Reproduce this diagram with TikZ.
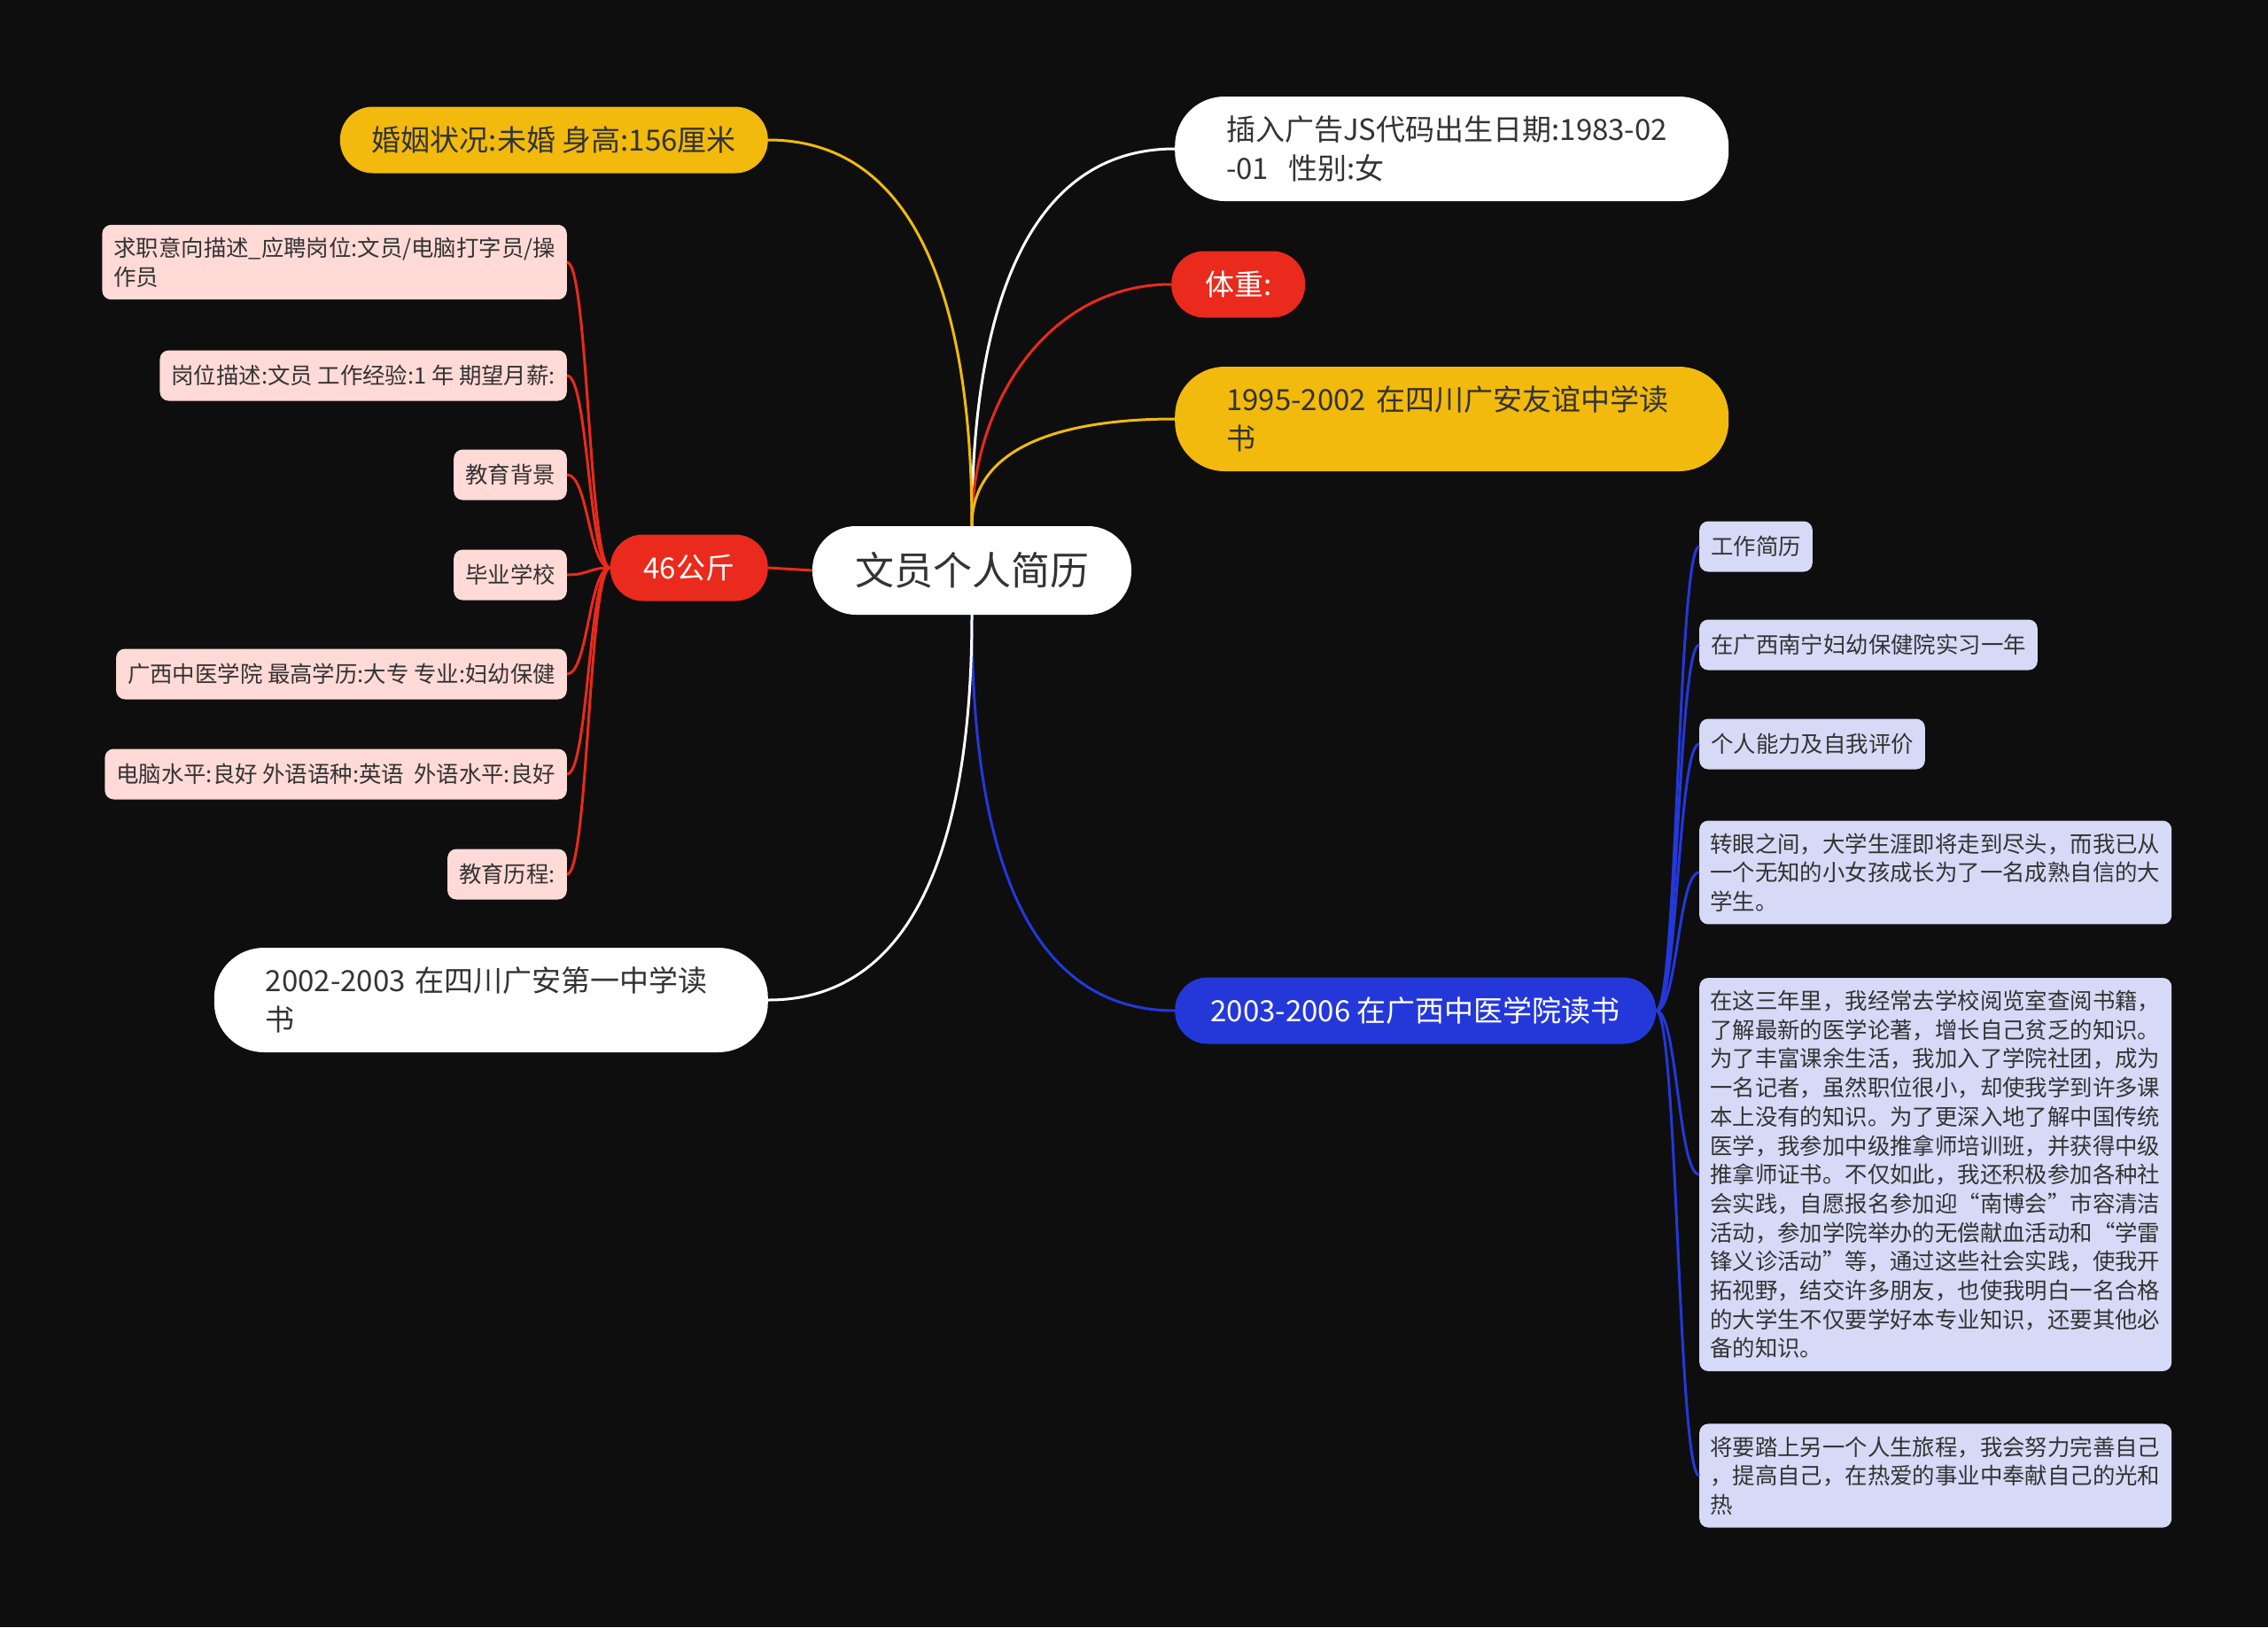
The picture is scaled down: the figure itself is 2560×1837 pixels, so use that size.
\documentclass[tikz,border=0pt]{standalone}
\usepackage{fontspec}
\setmainfont{Noto Sans CJK SC}
\begin{document}
\begin{tikzpicture}[x=1pt, y=-1pt,
    mainnode/.style={rounded corners=37pt, minimum height=75pt, inner xsep=20pt, font=\fontsize{33}{44}\selectfont},
    widenode/.style={rounded corners=56pt, minimum height=118pt, inner xsep=58pt, text width=509pt, align=left, font=\fontsize{33}{44}\selectfont},
    leafnode/.style={rounded corners=10pt, minimum height=57pt, inner xsep=13pt, inner ysep=14pt, align=left, text=textdark, font=\fontsize{25.4}{32.7}\selectfont},
    pinkleaf/.style={leafnode, fill=leafpink, anchor=east},
    blueleaf/.style={leafnode, fill=leafblue, anchor=west},
    branch/.style={line width=3pt},
]
    % Colours of the map
    \definecolor{bgdark}{RGB}{14, 14, 15}
    \definecolor{textdark}{RGB}{51, 51, 51}
    \definecolor{mainyellow}{RGB}{241, 186, 12}
    \definecolor{mainred}{RGB}{234, 42, 28}
    \definecolor{mainblue}{RGB}{36, 56, 218}
    \definecolor{leafpink}{RGB}{255, 218, 214}
    \definecolor{leafblue}{RGB}{214, 218, 246}

    % Dark page
    \fill[bgdark] (0,0) rectangle (2560,1837);
    \useasboundingbox (0,0) rectangle (2560,1837);

    % Central topic
    \node[fill=white, rounded corners=49pt, minimum width=360pt, minimum height=100pt, text=textdark,
          font=\fontsize{44}{52}\selectfont] (root) at (1097,644) {文员个人简历};

    % Main branches - right side
    \node[widenode, fill=white, text=textdark, anchor=west] (birth) at (1326,168) {插入广告JS代码出生日期:1983-02\\-01~~性别:女};
    \node[mainnode, fill=mainred, text=white, anchor=west, minimum width=151pt] (weight) at (1322,321) {体重:};
    \node[widenode, fill=mainyellow, text=textdark, anchor=west] (school95) at (1326,473) {1995-2002 在四川广安友谊中学读\\书};
    \node[mainnode, fill=mainblue, text=white, anchor=west, minimum width=543pt] (school03) at (1326,1141) {2003-2006 在广西中医学院读书};

    % Main branches - left side
    \node[mainnode, fill=mainyellow, text=textdark, anchor=east, minimum width=483pt] (marriage) at (867,158) {婚姻状况:未婚 身高:156厘米};
    \node[mainnode, fill=mainred, text=white, anchor=east, minimum width=178pt] (kg46) at (867,641) {46公斤};
    \node[widenode, fill=white, text=textdark, anchor=east] (school02) at (867,1129) {2002-2003 在四川广安第一中学读\\书};

    % Leaves under 46公斤
    \node[pinkleaf] (intent) at (640,296) {求职意向描述\_应聘岗位:文员/电脑打字员/操\\作员};
    \node[pinkleaf] (post) at (640,424) {岗位描述:文员 工作经验:1 年 期望月薪:};
    \node[pinkleaf] (edubg) at (640,536) {教育背景};
    \node[pinkleaf] (gradschool) at (640,649) {毕业学校};
    \node[pinkleaf] (degree) at (640,761) {广西中医学院 最高学历:大专 专业:妇幼保健};
    \node[pinkleaf] (skills) at (640,874) {电脑水平:良好 外语语种:英语~~外语水平:良好};
    \node[pinkleaf] (eduhist) at (640,987) {教育历程:};

    % Leaves under 2003-2006
    \node[blueleaf] (work) at (1918,617) {工作简历};
    \node[blueleaf] (intern) at (1918,728) {在广西南宁妇幼保健院实习一年};
    \node[blueleaf] (selfeval) at (1918,840) {个人能力及自我评价};
    \node[blueleaf, inner xsep=12pt, text width=509pt] (glance) at (1918,985) {转眼之间，大学生涯即将走到尽头，而我已从\\一个无知的小女孩成长为了一名成熟自信的大\\学生。};
    \node[blueleaf, inner xsep=12pt, text width=509pt] (threeyears) at (1918,1326) {在这三年里，我经常去学校阅览室查阅书籍，\\了解最新的医学论著，增长自己贫乏的知识。\\为了丰富课余生活，我加入了学院社团，成为\\一名记者，虽然职位很小，却使我学到许多课\\本上没有的知识。为了更深入地了解中国传统\\医学，我参加中级推拿师培训班，并获得中级\\推拿师证书。不仅如此，我还积极参加各种社\\会实践，自愿报名参加迎“南博会”市容清洁\\活动，参加学院举办的无偿献血活动和“学雷\\锋义诊活动”等，通过这些社会实践，使我开\\拓视野，结交许多朋友，也使我明白一名合格\\的大学生不仅要学好本专业知识，还要其他必\\备的知识。};
    \node[blueleaf, inner xsep=12pt, text width=509pt] (future) at (1918,1666) {将要踏上另一个人生旅程，我会努力完善自己\\，提高自己，在热爱的事业中奉献自己的光和\\热};

    % Connectors from the central topic
    \draw[branch, white] (root.north) .. controls +(0,-190) and +(-190,0) .. (birth.west);
    \draw[branch, mainred] (root.north) .. controls +(0,-139) and +(-139,0) .. (weight.west);
    \draw[branch, mainyellow] (root.north) .. controls +(0,-101) and +(-101,0) .. (school95.west);
    \draw[branch, mainblue] (root.south) .. controls +(0,197) and +(-197,0) .. (school03.west);
    \draw[branch, mainyellow] (root.north) .. controls +(0,-193) and +(193,0) .. (marriage.east);
    \draw[branch, white] (root.south) .. controls +(0,193) and +(193,0) .. (school02.east);
    \draw[branch, mainred] (root.west) -- (kg46.east);

    % Connectors to the leaves
    \foreach \leaf in {intent,post,edubg,gradschool,degree,skills,eduhist}
        \draw[branch, mainred] (kg46.west) .. controls +(-24,0) and +(24,0) .. (\leaf.east);
    \foreach \leaf in {work,intern,selfeval,glance,threeyears,future}
        \draw[branch, mainblue] (school03.east) .. controls +(24,0) and +(-24,0) .. (\leaf.west);

\end{tikzpicture}
\end{document}
